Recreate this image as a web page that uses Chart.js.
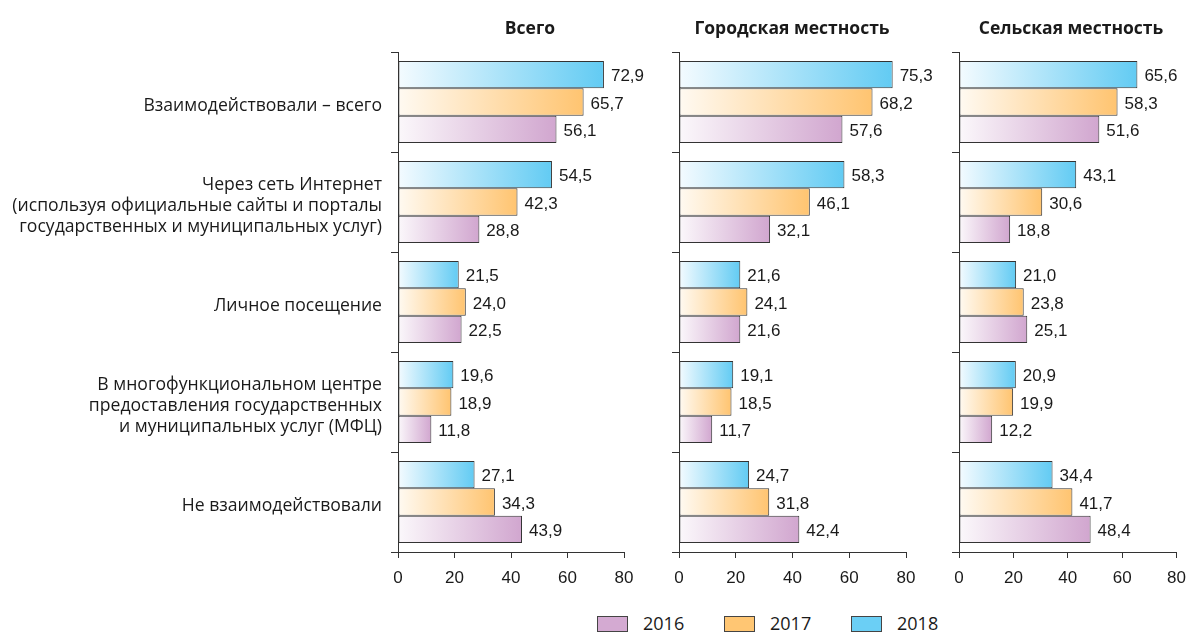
<!DOCTYPE html>
<html>
<head>
<meta charset="utf-8">
<script src="https://cdn.jsdelivr.net/npm/chart.js@4.4.1/dist/chart.umd.min.js"></script>
<style>
  html, body { margin: 0; padding: 0; background: #fff; }
  #wrap { position: relative; width: 1196px; height: 634px; overflow: hidden; }
  #wrap canvas { position: absolute; left: 0; top: 0; }
  .ttl { position: absolute; top: 15px; font: bold 17.5px 'Open Sans', sans-serif; color: #1a1a1a; transform: translateX(-50%); white-space: nowrap; }
  .legend { position: absolute; top: 612px; left: 0; font: 18px 'Open Sans', sans-serif; color: #1a1a1a; }
  .legend span.box { position: absolute; top: 4px; width: 31px; height: 16px; border: 1px solid #444; box-sizing: border-box; }
  .legend span.txt { position: absolute; top: -1px; white-space: nowrap; }
</style>
</head>
<body>
<div id="wrap">
  <canvas id="c1" width="1196" height="600"></canvas>
  <canvas id="c2" width="1196" height="600"></canvas>
  <canvas id="c3" width="1196" height="600"></canvas>
  <div class="ttl" style="left:530px">Всего</div>
  <div class="ttl" style="left:792px">Городская местность</div>
  <div class="ttl" style="left:1071px">Сельская местность</div>
  <div class="legend">
    <span class="box" style="left:597px;background:#d4aad2"></span><span class="txt" style="left:643px">2016</span>
    <span class="box" style="left:724px;background:#ffc673"></span><span class="txt" style="left:770px">2017</span>
    <span class="box" style="left:851px;background:#6bcff5"></span><span class="txt" style="left:897px">2018</span>
  </div>
</div>
<script>
// categories (multi-line labels for the first panel)
const categories = [
  'Взаимодействовали – всего',
  ['Через сеть Интернет', '(используя официальные сайты и порталы', 'государственных и муниципальных услуг)'],
  'Личное посещение',
  ['В многофункциональном центре', 'предоставления государственных', 'и муниципальных услуг (МФЦ)'],
  'Не взаимодействовали'
];
const years = ['2018', '2017', '2016'];
const xTicks = [0, 20, 40, 60, 80];

// Всего
const total2018 = [72.9, 54.5, 21.5, 19.6, 27.1];
const total2017 = [65.7, 42.3, 24.0, 18.9, 34.3];
const total2016 = [56.1, 28.8, 22.5, 11.8, 43.9];
// Городская местность
const urban2018 = [75.3, 58.3, 21.6, 19.1, 24.7];
const urban2017 = [68.2, 46.1, 24.1, 18.5, 31.8];
const urban2016 = [57.6, 32.1, 21.6, 11.7, 42.4];
// Сельская местность
const rural2018 = [65.6, 43.1, 21.0, 20.9, 34.4];
const rural2017 = [58.3, 30.6, 23.8, 19.9, 41.7];
const rural2016 = [51.6, 18.8, 25.1, 12.2, 48.4];

const colors = {
  '2018': ['#f4fbff', '#62cbf3'],
  '2017': ['#fffaf2', '#ffc470'],
  '2016': ['#fbf8fb', '#d1a6cf']
};
const numFont = "'Liberation Sans', Arial, sans-serif";

function barGradient(ctx, year) {
  const [c0, c1] = colors[year];
  const chart = ctx.chart;
  const xs = chart.scales && chart.scales.x;
  if (ctx.type !== 'data' || !xs || !chart.chartArea) return c1;
  const x0 = xs.getPixelForValue(0);
  const x1 = xs.getPixelForValue(ctx.raw);
  if (!isFinite(x0) || !isFinite(x1) || x1 <= x0) return c1;
  const g = chart.ctx.createLinearGradient(x0, 0, x1, 0);
  g.addColorStop(0, c0);
  g.addColorStop(1, c1);
  return g;
}

// value labels to the right of each bar
const valueLabels = {
  id: 'valueLabels',
  afterDatasetsDraw(chart) {
    const ctx = chart.ctx;
    ctx.save();
    ctx.font = '17px ' + numFont;
    ctx.fillStyle = '#1a1a1a';
    ctx.textAlign = 'left';
    ctx.textBaseline = 'middle';
    chart.data.datasets.forEach((ds, i) => {
      chart.getDatasetMeta(i).data.forEach((el, j) => {
        ctx.fillText(ds.data[j].toFixed(1).replace('.', ','), el.x + 7, el.y + 2);
      });
    });
    ctx.restore();
  }
};

function makeChart(id, s2018, s2017, s2016, leftW, rightPad, showLabels) {
  const series = { '2018': s2018, '2017': s2017, '2016': s2016 };
  return new Chart(document.getElementById(id), {
    type: 'bar',
    data: {
      labels: categories,
      datasets: years.map(y => ({
        label: y,
        data: series[y],
        backgroundColor: ctx => barGradient(ctx, y),
        borderColor: '#333',
        borderWidth: 1,
        borderSkipped: false,
        barPercentage: 1,
        categoryPercentage: 0.82
      }))
    },
    options: {
      indexAxis: 'y',
      responsive: false,
      animation: false,
      layout: { padding: { top: 52, right: rightPad, left: 0, bottom: 0 } },
      plugins: { legend: { display: false }, tooltip: { enabled: false } },
      scales: {
        x: {
          min: 0, max: 80,
          afterBuildTicks: sc => { sc.ticks = xTicks.map(v => ({ value: v })); },
          afterFit: sc => { sc.height = 48; },
          border: { display: true, color: '#333', width: 1 },
          grid: { drawOnChartArea: false, drawTicks: true, tickLength: 6, color: '#333' },
          ticks: { color: '#1a1a1a', padding: 10, font: { family: numFont, size: 17 } }
        },
        y: {
          afterFit: sc => { sc.width = leftW; },
          border: { display: true, color: '#333', width: 1 },
          grid: { drawOnChartArea: false, drawTicks: true, tickLength: 7, color: '#333', offset: true },
          ticks: {
            display: showLabels,
            color: '#1a1a1a',
            padding: 9,
            labelOffset: 4,
            font: { family: "'Open Sans', sans-serif", size: 17.6, lineHeight: 1.22 }
          }
        }
      }
    },
    plugins: [valueLabels]
  });
}

makeChart('c1', total2018, total2017, total2016, 398, 1196 - 624, true);
makeChart('c2', urban2018, urban2017, urban2016, 679, 1196 - 906, false);
makeChart('c3', rural2018, rural2017, rural2016, 959, 1196 - 1185, false);
</script>
</body>
</html>
